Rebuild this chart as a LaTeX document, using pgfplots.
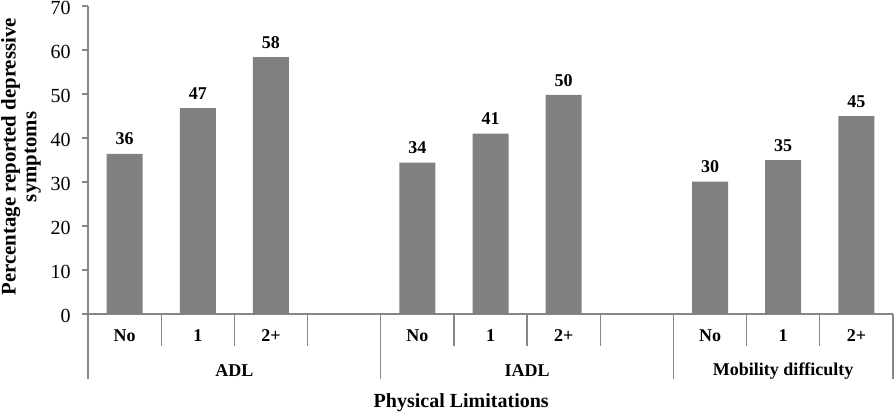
\documentclass[border=0pt]{standalone}
\usepackage{pgfplots}
\pgfplotsset{compat=1.18}
\usepackage{fontspec}
\setmainfont{Liberation Serif}
\definecolor{barg}{HTML}{808080}
\definecolor{axg}{HTML}{868686}
\newcommand{\fs}{\fontsize{13.5}{16.5}\selectfont}
\newcommand{\fy}{\fontsize{15}{17}\selectfont}
\begin{document}
\begin{tikzpicture}
\useasboundingbox (-66pt,-73.5pt) rectangle (606pt,235.5pt);
\begin{axis}[
  at={(0,0)}, anchor=south west,
  scale only axis, width=603.75pt, height=231pt,
  xmin=-0.5, xmax=10.5, ymin=0, ymax=70,
  ytick={0,10,...,70},
  axis x line*=bottom, axis y line*=left,
  axis line style={axg, line width=0.9pt},
  y tick style={axg, line width=0.9pt},
  tick align=outside, major tick length=4.5pt,
  xtick={0,1,2,4,5,6,8,9,10},
  xticklabels={No,1,2+,No,1,2+,No,1,2+},
  x tick style={draw=none},
  xticklabel style={font=\fs\bfseries, yshift=-4pt},
  yticklabel style={font=\fy, xshift=-5pt, yshift=-1.2pt},
  /pgf/number format/assume math mode=true,
  ybar, bar width=27pt,
  nodes near coords={\pgfmathprintnumber[fixed,precision=0]{\pgfplotspointmeta}},
  every node near coord/.append style={font=\fs\bfseries, black, yshift=3pt},
  clip=false,
]
\addplot[fill=barg, draw=none] coordinates {(0,36.4) (1,46.8) (2,58.4) (4,34.4) (5,41.0) (6,49.8) (8,30.1) (9,35.0) (10,45.0)};
\draw[axg, line width=0.9pt] (axis cs:0.5,0) -- ++(0pt,-24pt);
\draw[axg, line width=0.9pt] (axis cs:1.5,0) -- ++(0pt,-24pt);
\draw[axg, line width=0.9pt] (axis cs:2.5,0) -- ++(0pt,-24pt);
\draw[axg, line width=0.9pt] (axis cs:4.5,0) -- ++(0pt,-24pt);
\draw[axg, line width=0.9pt] (axis cs:5.5,0) -- ++(0pt,-24pt);
\draw[axg, line width=0.9pt] (axis cs:6.5,0) -- ++(0pt,-24pt);
\draw[axg, line width=0.9pt] (axis cs:8.5,0) -- ++(0pt,-24pt);
\draw[axg, line width=0.9pt] (axis cs:9.5,0) -- ++(0pt,-24pt);
\draw[axg, line width=0.9pt] (axis cs:-0.5,0) -- ++(0pt,-48.75pt);
\draw[axg, line width=0.9pt] (axis cs:3.5,0) -- ++(0pt,-48.75pt);
\draw[axg, line width=0.9pt] (axis cs:7.5,0) -- ++(0pt,-48.75pt);
\draw[axg, line width=0.9pt] (axis cs:10.5,0) -- ++(0pt,-48.75pt);
\node[font=\fs\bfseries, yshift=-42.5pt] at (axis cs:1.5,0) {ADL};
\node[font=\fs\bfseries, yshift=-42.5pt] at (axis cs:5.5,0) {IADL};
\node[font=\fs\bfseries, yshift=-42.5pt] at (axis cs:9,0) {Mobility difficulty};
\node[font=\fontsize{15}{17}\selectfont\bfseries, yshift=-66.5pt] at (axis cs:4.6,0) {Physical Limitations};
\node[font=\fontsize{15.6}{15.5}\selectfont\bfseries, rotate=90, align=center] at ([xshift=-50.25pt]rel axis cs:0,0.51) {Percentage reported depressive\\symptoms};
\end{axis}
\end{tikzpicture}
\end{document}
